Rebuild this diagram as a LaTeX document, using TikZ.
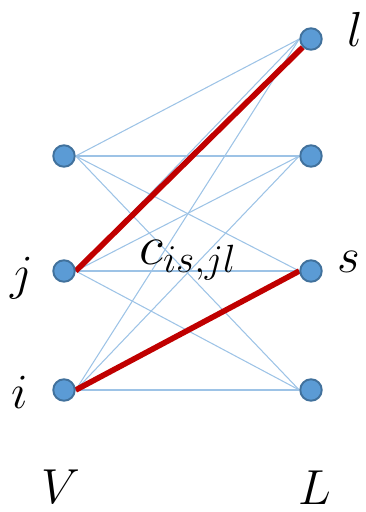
\RequirePackage{fix-cm}
\documentclass[tikz,border=0pt]{standalone}
\usepackage{amsmath}
\usetikzlibrary{backgrounds}
\definecolor{vtxfill}{HTML}{5B9BD5}
\definecolor{vtxdraw}{HTML}{41719C}
\definecolor{edgeblue}{HTML}{9DC3E6}
\definecolor{matchred}{HTML}{C00000}

\begin{document}
\begin{tikzpicture}[x=0.02cm, y=-0.02cm,
  vtx/.style={circle, draw=vtxdraw, fill=vtxfill, line width=1.1pt, minimum size=0.43cm, inner sep=0pt},
  lbl/.style={font=\fontsize{28}{34}\selectfont, inner sep=0pt},
  costedge/.style={draw=edgeblue, line width=0.6pt},
  matchedge/.style={draw=matchred, line width=3.2pt}]
\useasboundingbox (0,0) rectangle (366,512);
% V side
\node[vtx] (v1) at (64,156) {};
\node[vtx] (vj) at (64,271) {};
\node[vtx] (vi) at (64,390) {};
% L side
\node[vtx] (ll) at (311,39) {};
\node[vtx] (l2) at (311,156) {};
\node[vtx] (ls) at (311,271) {};
\node[vtx] (l4) at (311,390) {};
% labels
\node[lbl] (txtl) at (355,29) {$l$};
\node[lbl] (txts) at (349,262) {$s$};
\node[lbl] (txtj) at (22,278) {$j$};
\node[lbl] (txti) at (20,392) {$i$};
\node[lbl] (txtV) at (61,487) {$V$};
\node[lbl] (txtL) at (315,488) {$L$};
\node[lbl, font=\fontsize{32}{38}\selectfont, anchor=base west] (cost) at (139,264) {$c_{is,jl}$};
% edges
\begin{pgfonlayer}{background}
\foreach \a in {v1,vj,vi}
  \foreach \b in {ll,l2,ls,l4}
    \draw[costedge] (\a.east) -- (\b.west);
\draw[matchedge] (vj.east) -- (ll.south west);
\draw[matchedge] (vi.east) -- (ls.west);
\end{pgfonlayer}
\end{tikzpicture}
\end{document}
